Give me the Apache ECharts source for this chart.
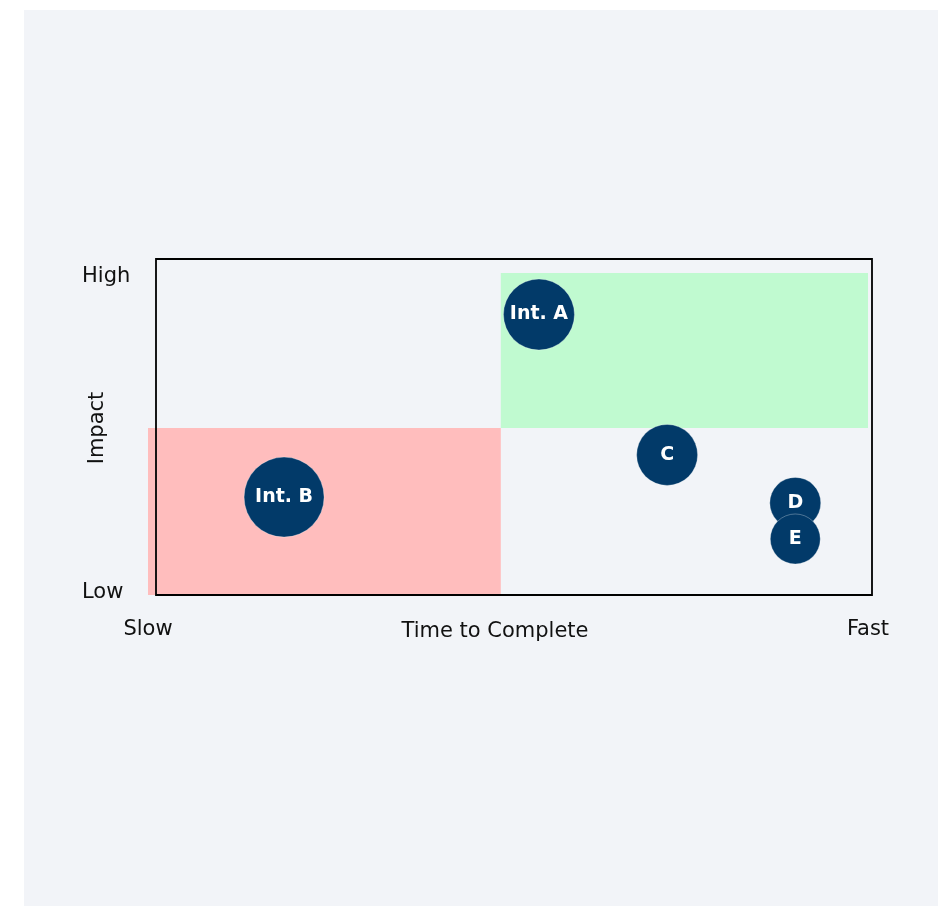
<!DOCTYPE html>
<html><head><meta charset="utf-8">
<script src="https://cdn.jsdelivr.net/npm/echarts@6/dist/echarts.min.js"></script>
<style>
html,body{margin:0;padding:0;background:#fff;width:938px;height:906px;overflow:hidden;}
#chart{position:absolute;left:24px;top:10px;width:914px;height:896px;background:#f2f4f8;}
</style></head><body>
<div id="chart"></div>
<script>
// Data
const xTickLabels = ['Slow', 'Fast'];
const yTickLabels = ['Low', 'High'];
const bubbleNames = ['Int. A', 'Int. B', 'C', 'D', 'E'];
const bubbleX = [5.43, 1.89, 7.21, 8.99, 8.99];
const bubbleY = [8.71, 3.04, 4.35, 2.86, 1.74];
const bubbleSize = [71, 80, 61, 51, 50];
// quadrant zones: [x0, x1, y0, y1]
const zoneRed = [0, 4.9, 0, 5.19];
const zoneGreen = [4.9, 10, 5.19, 10];

const font = 'DejaVu Sans';
const chart = echarts.init(document.getElementById('chart'), null, {renderer: 'canvas'});

const zones = [
  {value: zoneRed, color: '#ffbdbd'},
  {value: zoneGreen, color: '#c0fad0'}
];

chart.setOption({
  animation: false,
  backgroundColor: 'transparent',
  grid: [
    {left: 124, right: 70, top: 263, bottom: 311, show: false},
    {left: 132, right: 66, top: 249, bottom: 311, show: true, borderColor: '#000', borderWidth: 1.8, backgroundColor: 'transparent', z: 5}
  ],
  xAxis: [
    {
      gridIndex: 0, type: 'value', min: 0, max: 10, interval: 10,
      axisLine: {show: false}, axisTick: {show: false}, splitLine: {show: false},
      axisLabel: {
        margin: 24, fontFamily: font, fontSize: 21, color: '#111',
        formatter: v => v === 0 ? xTickLabels[0] : (v === 10 ? xTickLabels[1] : '')
      },
      name: 'Time to Complete', nameLocation: 'middle', nameGap: 26, nameMoveOverlap: false,
      nameTextStyle: {fontFamily: font, fontSize: 21, color: '#111', verticalAlign: 'top', padding: [0, 26, 0, 0]}
    },
    {gridIndex: 1, type: 'value', min: 0, max: 1, show: false}
  ],
  yAxis: [
    {
      gridIndex: 0, type: 'value', min: 0, max: 10, interval: 10,
      axisLine: {show: false}, axisTick: {show: false}, splitLine: {show: false},
      axisLabel: {
        margin: 66, align: 'left', fontFamily: font, fontSize: 21, color: '#111',
        formatter: v => v === 0 ? '{lo|' + yTickLabels[0] + '}' : (v === 10 ? '{hi|' + yTickLabels[1] + '}' : ''),
        rich: {
          lo: {fontFamily: font, fontSize: 21, color: '#111', padding: [0, 0, 4, 0]},
          hi: {fontFamily: font, fontSize: 21, color: '#111', padding: [8, 0, 0, 0]}
        }
      },
      name: 'Impact', nameLocation: 'middle', nameGap: 40, nameRotate: 90, nameMoveOverlap: false,
      nameTextStyle: {fontFamily: font, fontSize: 21, color: '#111', padding: [0, 0, 0, 12]}
    },
    {gridIndex: 1, type: 'value', min: 0, max: 1, show: false}
  ],
  series: [
    {
      type: 'custom', xAxisIndex: 0, yAxisIndex: 0, z: 1, clip: false,
      data: zones.map(z => z.value),
      renderItem: function (params, api) {
        const p0 = api.coord([api.value(0), api.value(3)]);
        const p1 = api.coord([api.value(1), api.value(2)]);
        return {
          type: 'rect',
          shape: {x: p0[0], y: p0[1], width: p1[0] - p0[0], height: p1[1] - p0[1]},
          style: {fill: zones[params.dataIndex].color}
        };
      }
    },
    {
      type: 'scatter', xAxisIndex: 0, yAxisIndex: 0, z: 10,
      data: bubbleNames.map((n, i) => ({name: n, value: [bubbleX[i], bubbleY[i]], symbolSize: bubbleSize[i]})),
      itemStyle: {color: '#023a69', opacity: 1, borderColor: 'rgba(255,255,255,0.5)', borderWidth: 0.6},
      label: {
        show: true, position: 'inside', formatter: p => p.name,
        fontFamily: font, fontWeight: 'bold', fontSize: 19, color: '#fff'
      }
    }
  ]
});
</script>
</body></html>
